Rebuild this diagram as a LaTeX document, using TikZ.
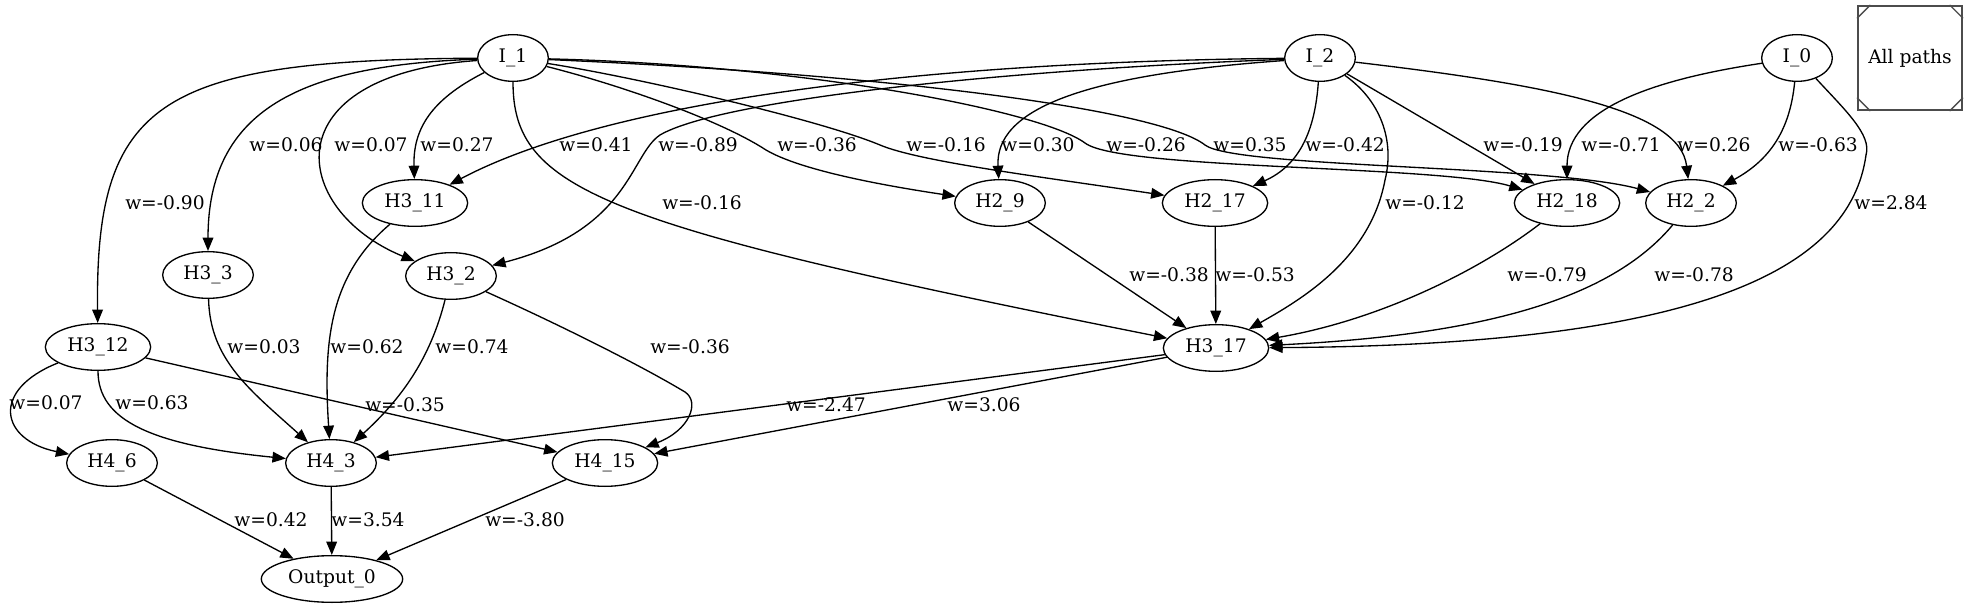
\documentclass[tikz,border=0pt]{standalone}
\usepackage{fontspec}
\setmainfont{DejaVu Serif}
\usetikzlibrary{shapes.geometric,arrows.meta}
\begin{document}
\begin{tikzpicture}[x=0.75pt, y=-0.75pt,
  input node/.style={shape=ellipse, draw, line width=1pt, inner sep=0pt, minimum width=53pt, minimum height=35pt, font=\fontsize{14}{17}\selectfont},
  hidden node/.style={input node, minimum width=68pt},
  wide node/.style={input node, minimum width=79pt},
  output node/.style={input node, minimum width=106pt},
  box node/.style={shape=rectangle, draw=black!70, line width=1.5pt, minimum size=78pt, font=\fontsize{14}{17}\selectfont},
  weight/.style={inner sep=0pt, font=\fontsize{14}{17}\selectfont},
  link/.style={line width=1pt, -{Triangle[length=10pt, width=8pt]}}]
\useasboundingbox (0,0) rectangle (1969,609);
\node[input node] (I1) at (513,58) {I\_1};
\node[input node] (I2) at (1320,58) {I\_2};
\node[input node] (I0) at (1797,58) {I\_0};
\node[box node] (AP) at (1910,58) {All paths};
\foreach \c/\sx/\sy in {north west/1/-1, north east/-1/-1, south west/1/1, south east/-1/1}
  \draw[black!70, line width=1pt] ([yshift=\sy*10pt]AP.\c) -- ([xshift=\sx*10pt]AP.\c);
\node[wide node] (H311) at (415,203) {H3\_11};
\node[hidden node] (H29) at (1000,203) {H2\_9};
\node[wide node] (H217) at (1215,203) {H2\_17};
\node[wide node] (H218) at (1567,203) {H2\_18};
\node[hidden node] (H22) at (1691,203) {H2\_2};
\node[hidden node] (H33) at (208,275) {H3\_3};
\node[hidden node] (H32) at (451,276) {H3\_2};
\node[wide node] (H312) at (98,347) {H3\_12};
\node[wide node] (H317) at (1216,348) {H3\_17};
\node[hidden node] (H46) at (112,463) {H4\_6};
\node[hidden node] (H43) at (331,463) {H4\_3};
\node[wide node] (H415) at (605,463) {H4\_15};
\node[output node] (O0) at (332,579) {Output\_0};
% from I_1
\draw[link] (I1) .. controls (160,60) and (95,100) .. (H312);
\draw[link] (I1) .. controls (300,65) and (208,110) .. (H33);
\draw[link] (I1) .. controls (270,75) and (290,210) .. (H32);
\draw[link] (I1) .. controls (430,100) and (413,130) .. (H311);
\draw[link] (I1) .. controls (513,190) and (600,225) .. (H317);
\draw[link] (I1) .. controls (620,85) and (720,120) .. (766,150) .. controls (800,170) and (880,185) .. (H29);
\draw[link] (I1) .. controls (640,78) and (820,120) .. (880,145) .. controls (920,162) and (1050,178) .. (H217);
\draw[link] (I1) .. controls (800,65) and (1040,110) .. (1085,143) .. controls (1120,170) and (1440,165) .. (H218);
\draw[link] (I1) .. controls (900,75) and (1160,110) .. (1205,145) .. controls (1235,168) and (1550,165) .. (H22);
% from I_2
\draw[link] (I2) .. controls (900,62) and (600,105) .. (H311);
\draw[link] (I2) .. controls (1000,70) and (720,100) .. (660,135) .. controls (630,155) and (630,230) .. (H32);
\draw[link] (I2) .. controls (1080,75) and (995,110) .. (H29);
\draw[link] (I2) .. controls (1315,130) and (1300,165) .. (H217);
\draw[link] (I2) .. controls (1380,100) and (1395,140) .. (1385,180) .. controls (1370,260) and (1300,300) .. (H317);
\draw[link] (I2) -- (H218);
\draw[link] (I2) .. controls (1550,85) and (1680,110) .. (H22);
% from I_0
\draw[link] (I0) .. controls (1650,80) and (1567,110) .. (H218);
\draw[link] (I0) .. controls (1790,130) and (1770,160) .. (H22);
\draw[link] (I0) .. controls (1845,110) and (1872,135) .. (1866,155) .. controls (1850,270) and (1700,345) .. (H317);
% second layer
\draw[link] (H29) -- (H317);
\draw[link] (H217) -- (H317);
\draw[link] (H218) .. controls (1480,270) and (1380,320) .. (H317);
\draw[link] (H22) .. controls (1610,300) and (1480,335) .. (H317);
% third layer
\draw[link] (H311) .. controls (330,275) and (323,340) .. (H43);
\draw[link] (H33) .. controls (210,360) and (250,390) .. (H43);
\draw[link] (H32) .. controls (430,360) and (400,400) .. (H43);
\draw[link] (H32) .. controls (560,325) and (640,365) .. (685,392) .. controls (700,402) and (690,430) .. (H415);
\draw[link] (H312) .. controls (-10,390) and (0,440) .. (H46);
\draw[link] (H312) .. controls (98,420) and (150,445) .. (H43);
\draw[link] (H312) -- (H415);
\draw[link] (H317) -- (H43);
\draw[link] (H317) -- (H415);
% to output
\draw[link] (H46) -- (O0);
\draw[link] (H43) -- (O0);
\draw[link] (H415) -- (O0);
% weights
\node[weight] (w1) at (165,203) {w=-0.90};
\node[weight] (w2) at (286,145) {w=0.06};
\node[weight] (w3) at (371,145) {w=0.07};
\node[weight] (w4) at (457,145) {w=0.27};
\node[weight] (w5) at (596,145) {w=0.41};
\node[weight] (w6) at (698,145) {w=-0.89};
\node[weight] (w7) at (817,145) {w=-0.36};
\node[weight] (w8) at (946,145) {w=-0.16};
\node[weight] (w9) at (1038,145) {w=0.30};
\node[weight] (w10) at (1146,145) {w=-0.26};
\node[weight] (w11) at (1250,145) {w=0.35};
\node[weight] (w12) at (1345,145) {w=-0.42};
\node[weight] (w13) at (1523,145) {w=-0.19};
\node[weight] (w14) at (1621,145) {w=-0.71};
\node[weight] (w15) at (1714,145) {w=0.26};
\node[weight] (w16) at (1818,145) {w=-0.63};
\node[weight] (w17) at (702,203) {w=-0.16};
\node[weight] (w18) at (1425,203) {w=-0.12};
\node[weight] (w19) at (1891,203) {w=2.84};
\node[weight] (w20) at (1169,275) {w=-0.38};
\node[weight] (w21) at (1255,275) {w=-0.53};
\node[weight] (w22) at (1547,275) {w=-0.79};
\node[weight] (w23) at (1694,275) {w=-0.78};
\node[weight] (w24) at (264,347) {w=0.03};
\node[weight] (w25) at (367,347) {w=0.62};
\node[weight] (w26) at (472,347) {w=0.74};
\node[weight] (w27) at (690,347) {w=-0.36};
\node[weight] (w28) at (46,403) {w=0.07};
\node[weight] (w29) at (152,403) {w=0.63};
\node[weight] (w30) at (405,405) {w=-0.35};
\node[weight] (w31) at (826,405) {w=-2.47};
\node[weight] (w32) at (984,405) {w=3.06};
\node[weight] (w33) at (271,520) {w=0.42};
\node[weight] (w34) at (368,520) {w=3.54};
\node[weight] (w35) at (525,520) {w=-3.80};
\end{tikzpicture}
\end{document}
